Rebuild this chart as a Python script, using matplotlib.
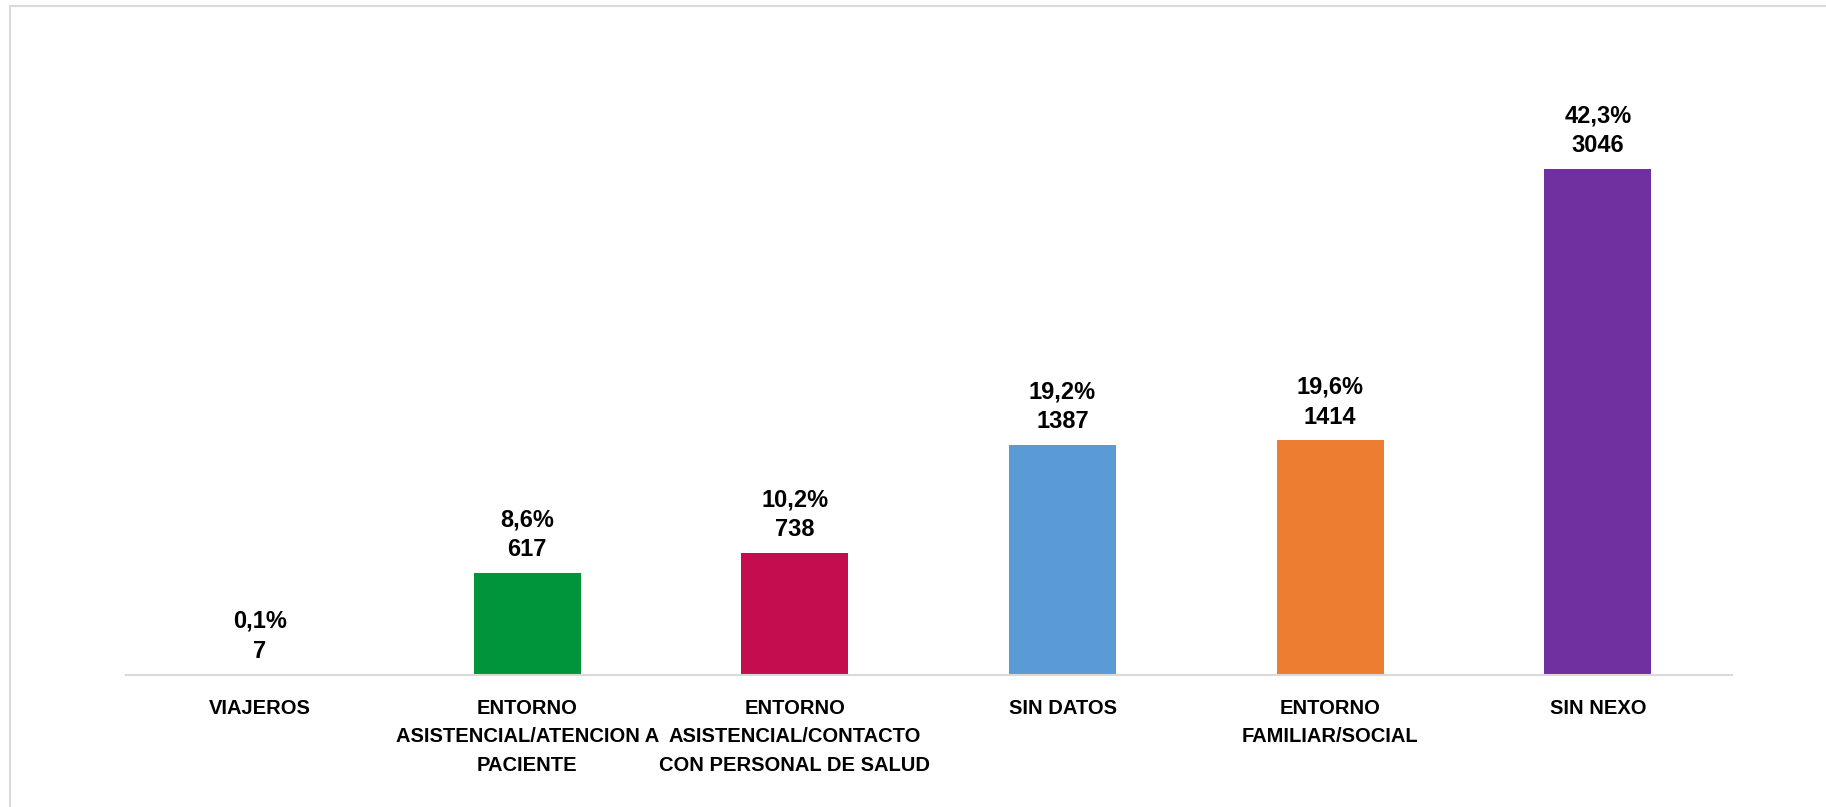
"""Casos por tipo de contagio - bar chart with percentage and count labels."""

import matplotlib
matplotlib.use("Agg")
from matplotlib import pyplot as plt
from matplotlib.lines import Line2D

categories = [
    "VIAJEROS",
    "ENTORNO\nASISTENCIAL/ATENCION A\nPACIENTE",
    "ENTORNO\nASISTENCIAL/CONTACTO\nCON PERSONAL DE SALUD",
    "SIN DATOS",
    "ENTORNO\nFAMILIAR/SOCIAL",
    "SIN NEXO",
]
counts = [7, 617, 738, 1387, 1414, 3046]
percents = ["0,1%", "8,6%", "10,2%", "19,2%", "19,6%", "42,3%"]
colors = ["#4472C4", "#00953B", "#C40D4E", "#5B9BD5", "#ED7D31", "#7030A0"]

plt.rcParams["font.family"] = ["Liberation Sans", "DejaVu Sans"]

fig = plt.figure(figsize=(18.26, 8.07), dpi=100)
ax = fig.add_axes([0.0689, 0.163, 0.8794, 0.779])

x = list(range(len(categories)))
ax.bar(x, counts, width=0.4, color=colors)

ax.set_xlim(-0.5, len(categories) - 0.5)
ax.set_ylim(0, 3780)

for i, (c, p) in enumerate(zip(counts, percents)):
    ax.annotate(str(c), (i, c), xytext=(0, 23), textcoords="offset pixels",
                ha="center", va="center", fontsize=17, fontweight="bold")
    ax.annotate(p, (i, c), xytext=(0, 53), textcoords="offset pixels",
                ha="center", va="center", fontsize=17, fontweight="bold")

ax.set_xticks(x)
ax.set_xticklabels(categories, fontsize=14.5, fontweight="bold", linespacing=1.62)
ax.tick_params(axis="x", length=0, pad=17)
ax.set_yticks([])

for side in ["top", "right", "left"]:
    ax.spines[side].set_visible(False)
ax.spines["bottom"].set_color("#d9d9d9")
ax.spines["bottom"].set_linewidth(1.5)

# outer chart border (only top and left visible in crop)
fig.add_artist(Line2D([10 / 1826, 1], [1 - 6 / 807, 1 - 6 / 807],
                      transform=fig.transFigure, color="#d9d9d9", linewidth=1.5))
fig.add_artist(Line2D([10 / 1826, 10 / 1826], [0, 1 - 6 / 807],
                      transform=fig.transFigure, color="#d9d9d9", linewidth=1.5))

plt.savefig("out.png", dpi=100)
plt.close()
